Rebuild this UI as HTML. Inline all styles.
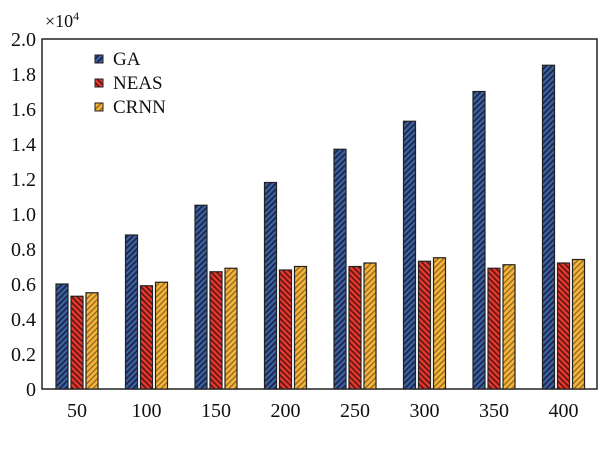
<!DOCTYPE html>
<html><head><style>body{margin:0;background:#fff}svg{display:block}</style></head><body>
<svg width="600" height="450" xmlns="http://www.w3.org/2000/svg" font-family="Liberation Serif, serif">
<defs>
<pattern id="pb" width="4" height="4" patternUnits="userSpaceOnUse" patternTransform="rotate(45)"><rect width="4" height="4" fill="#3f62a4"/><rect width="1.8" height="4" fill="#1a2848"/></pattern>
<pattern id="pr" width="4" height="4" patternUnits="userSpaceOnUse" patternTransform="rotate(-45)"><rect width="4" height="4" fill="#e8382e"/><rect width="1.6" height="4" fill="#5a1510"/></pattern>
<pattern id="po" width="4" height="4" patternUnits="userSpaceOnUse" patternTransform="rotate(45)"><rect width="4" height="4" fill="#f4b438"/><rect width="1.2" height="4" fill="#8a6020"/></pattern>
</defs>
<rect x="42" y="39" width="555" height="350" fill="none" stroke="#222" stroke-width="1.5"/>
<g font-size="20" text-anchor="end" fill="#111">
<text x="36" y="396">0</text><text x="36" y="361">0.2</text><text x="36" y="326">0.4</text><text x="36" y="291">0.6</text><text x="36" y="256">0.8</text><text x="36" y="221">1.0</text><text x="36" y="186">1.2</text><text x="36" y="151">1.4</text><text x="36" y="116">1.6</text><text x="36" y="81">1.8</text><text x="36" y="46">2.0</text>
</g>
<text x="45" y="27" font-size="18" fill="#111">×10<tspan font-size="12" dy="-7">4</tspan></text>
<g id="bars" stroke="#222" stroke-width="1.2"></g>
<g font-size="20" text-anchor="middle" fill="#111" id="xl"></g>
<g font-size="19" fill="#111">
<rect x="95" y="55" width="8" height="8" fill="url(#pb)" stroke="#222"/><text x="113" y="65">GA</text>
<rect x="95" y="79" width="8" height="8" fill="url(#pr)" stroke="#222"/><text x="113" y="89">NEAS</text>
<rect x="95" y="103" width="8" height="8" fill="url(#po)" stroke="#222"/><text x="113" y="113">CRNN</text>
</g>
<script>
var ga=[.6,.88,1.05,1.18,1.37,1.53,1.7,1.85],ne=[.53,.59,.67,.68,.70,.73,.69,.72],cr=[.55,.61,.69,.70,.72,.75,.71,.74];
var b=document.getElementById('bars'),xl=document.getElementById('xl'),ns='http://www.w3.org/2000/svg';
function r(x,v,f){var e=document.createElementNS(ns,'rect');var h=v*175;e.setAttribute('x',x);e.setAttribute('y',389-h);e.setAttribute('width',12);e.setAttribute('height',h);e.setAttribute('fill',f);b.appendChild(e);}
for(var i=0;i<8;i++){var c=77+i*69.5;r(c-21,ga[i],'url(#pb)');r(c-6,ne[i],'url(#pr)');r(c+9,cr[i],'url(#po)');
var t=document.createElementNS(ns,'text');t.setAttribute('x',c);t.setAttribute('y',417);t.textContent=(i+1)*50;xl.appendChild(t);}
</script>
</svg>
</body></html>
